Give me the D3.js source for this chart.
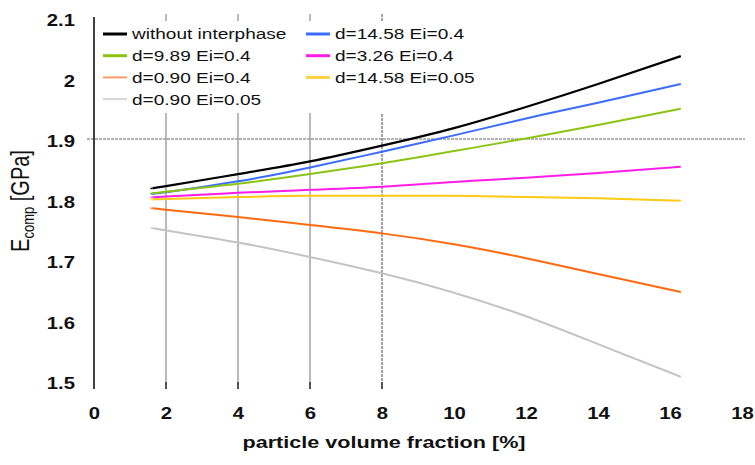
<!DOCTYPE html>
<html>
<head>
<meta charset="utf-8">
<script src="https://cdn.jsdelivr.net/npm/d3@7"></script>
<style>
  body { margin: 0; background: #fff; }
  text { font-family: "Liberation Sans", Arial, sans-serif; }
</style>
</head>
<body>
<div id="chart"></div>
<script>
var svgWidth = 755;
var svgHeight = 465;

// data
var xValues = [1.6, 2, 4, 6, 8, 10, 12, 14, 16.3];
var noInterphase = [1.819, 1.822, 1.842, 1.863, 1.889, 1.918, 1.953, 1.991, 2.037];
var d1458Ei04 = [1.810, 1.812, 1.830, 1.853, 1.879, 1.906, 1.934, 1.960, 1.991];
var d989Ei04 = [1.810, 1.813, 1.826, 1.842, 1.860, 1.880, 1.901, 1.923, 1.950];
var d326Ei04 = [1.803, 1.805, 1.811, 1.816, 1.821, 1.829, 1.836, 1.844, 1.854];
var d090Ei04 = [1.786, 1.783, 1.771, 1.758, 1.744, 1.726, 1.703, 1.677, 1.647];
var d1458Ei005 = [1.800, 1.801, 1.804, 1.806, 1.806, 1.806, 1.804, 1.802, 1.798];
var d090Ei005 = [1.753, 1.749, 1.729, 1.705, 1.678, 1.646, 1.607, 1.561, 1.507];

var seriesNames = ["without interphase", "d=14.58 Ei=0.4", "d=9.89 Ei=0.4", "d=3.26 Ei=0.4",
                   "d=0.90 Ei=0.4", "d=14.58 Ei=0.05", "d=0.90 Ei=0.05"];
var seriesValues = [noInterphase, d1458Ei04, d989Ei04, d326Ei04, d090Ei04, d1458Ei005, d090Ei005];
var seriesColors = ["#000000", "#3a6cff", "#8cc414", "#ff1ee8", "#ff6a10", "#ffc814", "#c4c4c4"];
var legendColors = ["#000000", "#3a6cff", "#8cc414", "#ff1ee8", "#ff9a66", "#ffd040", "#d4d4d4"];
// legend order: row by row, two columns
var legendOrder = [0, 1, 2, 3, 4, 5, 6];

var xTicks = [0, 2, 4, 6, 8, 10, 12, 14, 16, 18];
var yTicks = [1.5, 1.6, 1.7, 1.8, 1.9, 2, 2.1];
var xGrid = [2, 4, 6, 8];
var yRef = 1.9;

var SX = 1.27; // text in the picture is stretched sideways

var x = d3.scaleLinear().domain([0, 18]).range([94, 742]);
var y = d3.scaleLinear().domain([1.5, 2.1]).range([381, 18]);
var yBottom = 389;

var svg = d3.select("#chart")
  .append("svg")
  .attr("width", svgWidth)
  .attr("height", svgHeight);

// vertical grid lines
svg.selectAll(".vgrid")
  .data(xGrid)
  .enter()
  .append("line")
  .attr("x1", d => x(d))
  .attr("x2", d => x(d))
  .attr("y1", y(2.1) - 4)
  .attr("y2", yBottom)
  .attr("stroke", d => d == 8 ? "#8c8c8c" : "#a8a8a8")
  .attr("stroke-width", 1.6)
  .attr("stroke-dasharray", d => d == 8 ? "3,1" : null);

// small dark ticks at the bottom of the grid lines
svg.selectAll(".btick")
  .data(xGrid)
  .enter()
  .append("line")
  .attr("x1", d => x(d))
  .attr("x2", d => x(d))
  .attr("y1", yBottom - 7)
  .attr("y2", yBottom)
  .attr("stroke", "#333")
  .attr("stroke-width", 1.5);

// reference line at 1.9
svg.append("line")
  .attr("x1", x(0) - 7)
  .attr("x2", x(18) + 3)
  .attr("y1", y(yRef))
  .attr("y2", y(yRef))
  .attr("stroke", "#999")
  .attr("stroke-width", 1.4)
  .attr("stroke-dasharray", "3,1");

// legend background hides the grid
svg.append("rect")
  .attr("x", 99)
  .attr("y", 21)
  .attr("width", 396)
  .attr("height", 92)
  .attr("fill", "#fff");

// series
var line = d3.line()
  .x(d => x(d[0]))
  .y(d => y(d[1]))
  .curve(d3.curveNatural);

seriesValues.forEach(function(vals, i) {
  var pts = xValues.map((xv, j) => [xv, vals[j]]);
  svg.append("path")
    .datum(pts)
    .attr("d", line)
    .attr("fill", "none")
    .attr("stroke", seriesColors[i])
    .attr("stroke-width", i == 0 ? 2.2 : 2);
});

// y axis line
svg.append("line")
  .attr("x1", x(0))
  .attr("x2", x(0))
  .attr("y1", y(2.1) - 1)
  .attr("y2", yBottom)
  .attr("stroke", "#111")
  .attr("stroke-width", 1.6);

// y axis labels
var yAxis = svg.append("g")
  .attr("transform", "translate(" + x(0) + ",0)")
  .call(d3.axisLeft(y).tickValues(yTicks).tickSize(0)
    .tickFormat(d => d == 2 ? "2" : d3.format(".1f")(d)));
yAxis.select(".domain").remove();
yAxis.selectAll("text")
  .attr("x", 0)
  .attr("dy", "0.35em")
  .attr("text-anchor", "end")
  .attr("transform", "translate(-19,2) scale(" + SX + ",1)")
  .style("font-family", "Liberation Sans, Arial, sans-serif")
  .style("font-size", "16px")
  .style("font-weight", "bold")
  .attr("fill", "#111");

// x axis labels
var xAxis = svg.append("g")
  .attr("transform", "translate(0,413)")
  .call(d3.axisBottom(x).tickValues(xTicks).tickSize(0));
xAxis.select(".domain").remove();
xAxis.selectAll("text")
  .attr("y", 0)
  .attr("dy", "0.35em")
  .attr("transform", "scale(" + SX + ",1)")
  .style("font-family", "Liberation Sans, Arial, sans-serif")
  .style("font-size", "16px")
  .style("font-weight", "bold")
  .attr("fill", "#111");

// axis titles
svg.append("text")
  .attr("transform", "translate(384,448) scale(" + SX + ",1)")
  .attr("text-anchor", "middle")
  .style("font-size", "17px")
  .style("font-weight", "bold")
  .attr("fill", "#111")
  .text("particle volume fraction [%]");

var yTitle = svg.append("text")
  .attr("transform", "translate(29,201) scale(" + SX + ",1) rotate(-90)")
  .attr("text-anchor", "middle")
  .style("font-size", "20px")
  .attr("fill", "#111");
yTitle.append("tspan").text("E");
yTitle.append("tspan").attr("dy", 4).style("font-size", "13px").text("comp");
yTitle.append("tspan").attr("dy", -4).text(" [GPa]");

// legend
var legend = svg.selectAll(".legend")
  .data(legendOrder)
  .enter()
  .append("g")
  .attr("transform", (d, i) => "translate(" + (i % 2 == 0 ? 103 : 306) + "," + (34 + Math.floor(i / 2) * 21.7) + ")");

legend.append("line")
  .attr("x1", 0)
  .attr("x2", 24)
  .attr("y1", 0)
  .attr("y2", 0)
  .attr("stroke", d => legendColors[d])
  .attr("stroke-width", d => (d == 4 || d == 6) ? 2 : 3);

legend.append("text")
  .attr("transform", "translate(29,0) scale(" + SX + ",1)")
  .attr("dy", "0.36em")
  .style("font-size", "15px")
  .attr("fill", "#111")
  .text(d => seriesNames[d]);
</script>
</body>
</html>
